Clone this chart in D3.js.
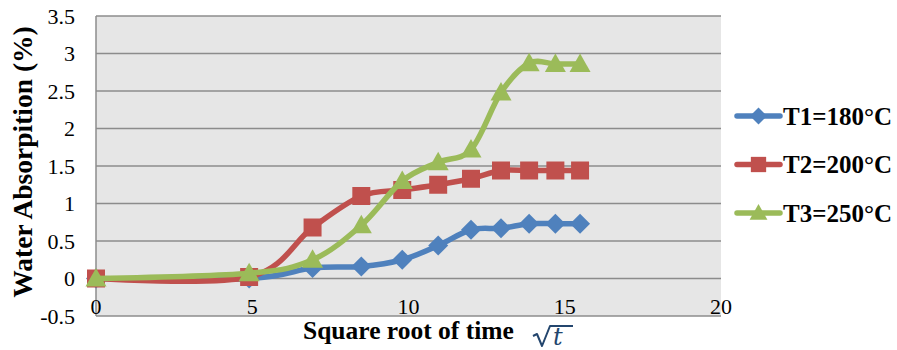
<!DOCTYPE html>
<html>
<head>
<meta charset="utf-8">
<script src="https://cdn.jsdelivr.net/npm/d3@7"></script>
<style>
  body { margin: 0; background: #fff; }
</style>
</head>
<body>
<div id="container"></div>
<script>
// sqrt of time (hours)
const sqrtTime = [0, 4.90, 6.93, 8.49, 9.80, 10.95, 12.00, 12.96, 13.86, 14.70, 15.49];
const t1 = [0, 0, 0.14, 0.16, 0.25, 0.44, 0.65, 0.67, 0.73, 0.73, 0.73];
const t2 = [0, 0.02, 0.68, 1.10, 1.18, 1.25, 1.33, 1.44, 1.44, 1.44, 1.44];
const t3 = [0, 0.07, 0.25, 0.71, 1.30, 1.55, 1.72, 2.48, 2.87, 2.86, 2.86];
const seriesNames = ["T1=180°C", "T2=200°C", "T3=250°C"];
const colors = ["#4F81BD", "#C0504D", "#9BBB59"];
const xTicks = [0, 5, 10, 15, 20];
const yTicks = [-0.5, 0, 0.5, 1, 1.5, 2, 2.5, 3, 3.5];

const serif = "'Liberation Serif', 'Times New Roman', Times, 'DejaVu Serif', serif";

const width = 897, height = 350;
const margin = { top: 16, right: 176, bottom: 34, left: 96 };

const svg = d3.select("#container").append("svg")
  .attr("width", width).attr("height", height)
  .style("font-family", serif);

const xScale = d3.scaleLinear().domain([0, 20]).range([margin.left, width - margin.right]);
const yScale = d3.scaleLinear().domain([-0.5, 3.5]).range([height - margin.bottom, margin.top]);

// plot background
svg.append("rect")
  .attr("x", xScale(0)).attr("y", yScale(3.5))
  .attr("width", xScale(20) - xScale(0))
  .attr("height", yScale(-0.5) - yScale(3.5))
  .attr("fill", "#E6E6E6");

// horizontal gridlines
svg.append("g")
  .selectAll("line")
  .data(yTicks)
  .enter().append("line")
  .attr("x1", xScale(0)).attr("x2", xScale(20))
  .attr("y1", d => yScale(d)).attr("y2", d => yScale(d))
  .attr("stroke", "#8C8C8C").attr("stroke-width", 1.5);

// left axis line
svg.append("line")
  .attr("x1", xScale(0)).attr("x2", xScale(0))
  .attr("y1", yScale(-0.5)).attr("y2", yScale(3.5))
  .attr("stroke", "#8C8C8C").attr("stroke-width", 1.5);

// y tick labels
svg.append("g")
  .selectAll("text")
  .data(yTicks)
  .enter().append("text")
  .attr("x", 75).attr("y", d => yScale(d))
  .attr("dy", "0.35em")
  .attr("text-anchor", "end")
  .attr("font-size", 22)
  .text(d => d);

// x tick labels (axis crosses at y = 0)
svg.append("g")
  .selectAll("text")
  .data(xTicks)
  .enter().append("text")
  .attr("x", d => xScale(d)).attr("y", yScale(0) + 35)
  .attr("text-anchor", "middle")
  .attr("font-size", 22)
  .text(d => d);

// axis titles
svg.append("text")
  .attr("transform", `translate(32, 162) rotate(-90)`)
  .attr("text-anchor", "middle")
  .attr("font-size", 27.5).attr("font-weight", "bold")
  .text("Water Absorpition (%)");

svg.append("text")
  .attr("x", 303).attr("y", 339)
  .attr("font-size", 25.5).attr("font-weight", "bold")
  .text("Square root of time");

const sq = svg.append("g");
sq.append("path")
  .attr("d", "M533,336 L537,334 L542,346 L550,326 L573,326")
  .attr("fill", "none").attr("stroke", "#24466E").attr("stroke-width", 2)
  .attr("stroke-linejoin", "round");
sq.append("text")
  .attr("x", 553).attr("y", 345)
  .attr("font-size", 24).attr("font-style", "italic")
  .attr("fill", "#24466E")
  .style("font-family", "'DejaVu Serif', serif")
  .text("t");

const allSeries = [t1, t2, t3];

// marker shapes (centered at 0,0)
function marker(s, r) {
  if (s === 0) return `M0,${-r}L${r},0L0,${r}L${-r},0Z`;
  if (s === 1) return `M${-r * 0.9},${-r * 0.9}H${r * 0.9}V${r * 0.9}H${-r * 0.9}Z`;
  return `M0,${-r * 1.05}L${r * 1.05},${r * 0.8}L${-r * 1.05},${r * 0.8}Z`;
}

const line = d3.line()
  .x((d, i) => xScale(sqrtTime[i]))
  .y(d => yScale(d))
  .curve(d3.curveCatmullRom.alpha(0));

allSeries.forEach((vals, s) => {
  svg.append("path")
    .datum(vals)
    .attr("fill", "none")
    .attr("stroke", colors[s])
    .attr("stroke-width", 5.5)
    .attr("stroke-linejoin", "round")
    .attr("d", line);

  svg.append("g")
    .selectAll("path")
    .data(vals)
    .enter().append("path")
    .attr("transform", (d, i) => `translate(${xScale(sqrtTime[i])}, ${yScale(d)})`)
    .attr("d", marker(s, 10))
    .attr("fill", colors[s]);
});

// legend
const legend = svg.append("g");
seriesNames.forEach((name, s) => {
  const y = 116 + s * 48.5;
  legend.append("line")
    .attr("x1", 737).attr("x2", 780)
    .attr("y1", y).attr("y2", y)
    .attr("stroke", colors[s]).attr("stroke-width", 5.5)
    .attr("stroke-linecap", "round");
  legend.append("path")
    .attr("transform", `translate(758.5, ${y})`)
    .attr("d", marker(s, 8.5))
    .attr("fill", colors[s]);
  legend.append("text")
    .attr("x", 783).attr("y", y)
    .attr("dy", "0.35em")
    .attr("font-size", 25).attr("font-weight", "bold")
    .text(name);
});
</script>
</body>
</html>
